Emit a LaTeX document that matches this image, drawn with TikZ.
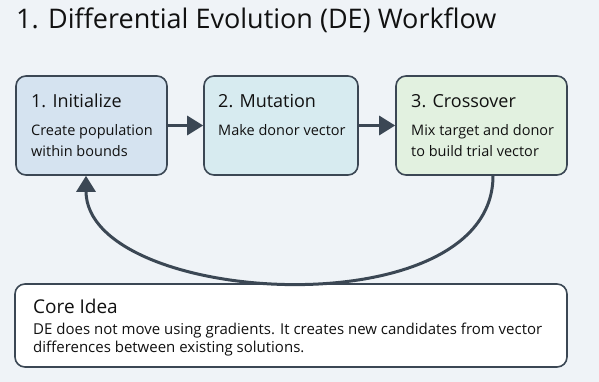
\documentclass[tikz,border=0pt]{standalone}
\usepackage{fontspec}
\setmainfont{Open Sans}
\usetikzlibrary{arrows.meta}
\definecolor{bg}{HTML}{EFF3F7}
\definecolor{edge}{HTML}{3B4754}
\definecolor{fillA}{HTML}{D5E3F0}
\definecolor{fillB}{HTML}{D7EBF0}
\definecolor{fillC}{HTML}{E2F1E0}
\definecolor{ink}{HTML}{111111}
\tikzset{
  stepbox/.style={draw=edge, line width=1.6pt, rounded corners=10pt, inner sep=0pt},
  head/.style={anchor=base west, inner sep=0pt, text=ink, font=\fontsize{18}{21}\selectfont},
  body/.style={anchor=base west, inner sep=0pt, text=ink, font=\fontsize{14.5}{18}\selectfont},
  flow/.style={draw=edge, line width=3pt, -{Triangle[length=16pt,width=19pt]}},
}
\begin{document}
\begin{tikzpicture}[x=1pt,y=-1pt]
\fill[bg] (0,0) rectangle (599,382);
\useasboundingbox (0,0) rectangle (599,382);
\node[anchor=base west, inner sep=0pt, text=ink, font=\fontsize{27}{32}\selectfont] (title) at (16,29) {1. Differential Evolution (DE) Workflow};

\node[stepbox, fill=fillA, minimum width=151pt, minimum height=99pt] (b1) at (91.5,125.5) {};
\node[stepbox, fill=fillB, minimum width=154pt, minimum height=99pt] (b2) at (281,125.5) {};
\node[stepbox, fill=fillC, minimum width=171pt, minimum height=99pt] (b3) at (481.5,125.5) {};
\node[stepbox, fill=white, minimum width=552pt, minimum height=83pt] (core) at (291,325.5) {};

\node[head] (t1) at (31,108) {1. Initialize};
\node[body] (d1a) at (31,136) {Create population};
\node[body] (d1b) at (31,157) {within bounds};

\node[head] (t2) at (218,108) {2. Mutation};
\node[body] (d2a) at (218,136) {Make donor vector};

\node[head] (t3) at (411,108) {3. Crossover};
\node[body] (d3a) at (411,136) {Mix target and donor};
\node[body] (d3b) at (411,157) {to build trial vector};

\node[head, font=\fontsize{19}{22}\selectfont] (ct) at (33,313) {Core Idea};
\node[body, font=\fontsize{15}{18}\selectfont] (cd1) at (33,334) {DE does not move using gradients. It creates new candidates from vector};
\node[body, font=\fontsize{15}{18}\selectfont] (cd2) at (33,352) {differences between existing solutions.};

\draw[flow] (b1.east) -- (b2.west);
\draw[flow] (b2.east) -- (b3.west);
\draw[flow] ([xshift=11.5pt]b3.south) .. controls +(0,155) and +(0,130) .. ([xshift=-5.5pt]b1.south);
\end{tikzpicture}
\end{document}
